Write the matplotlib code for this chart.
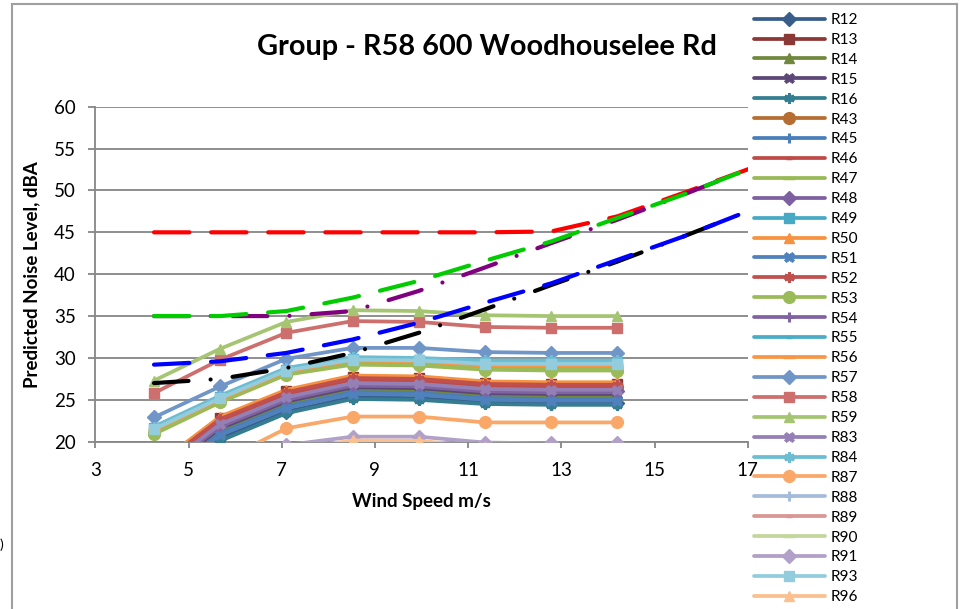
import matplotlib
matplotlib.use("Agg")
import matplotlib.pyplot as plt
from matplotlib.lines import Line2D

FONT = ["Lato", "DejaVu Sans"]
plt.rcParams['font.family'] = FONT

# ---------------- data ----------------
wind = [4.26, 5.68, 7.1, 8.52, 9.94, 11.36, 12.78, 14.2]
wind_limit = [4.26, 5.68, 7.1, 8.52, 9.94, 11.36, 12.78, 14.2, 15.62, 17.04]

labels = ["R12", "R13", "R14", "R15", "R16", "R43", "R45", "R46", "R47", "R48",
          "R49", "R50", "R51", "R52", "R53", "R54", "R55", "R56", "R57", "R58",
          "R59", "R83", "R84", "R87", "R88", "R89", "R90", "R91", "R93", "R96"]

R12 = [14.5, 20.4, 23.6, 25.3, 25.2, 24.7, 24.6, 24.6]
R13 = [16.8, 22.8, 26.0, 27.7, 27.6, 27.0, 26.9, 26.9]
R14 = [15.3, 21.3, 24.5, 26.2, 26.1, 25.5, 25.4, 25.4]
R15 = [15.6, 21.6, 24.8, 26.5, 26.4, 25.8, 25.7, 25.7]
R16 = [14.2, 20.1, 23.4, 25.1, 25.0, 24.5, 24.4, 24.4]
R43 = [16.4, 22.4, 25.6, 27.3, 27.2, 26.6, 26.5, 26.5]
R45 = [15.0, 21.0, 24.2, 25.9, 25.8, 25.2, 25.1, 25.1]
R46 = [16.5, 22.5, 25.7, 27.4, 27.3, 26.7, 26.6, 26.6]
R47 = [21.1, 24.9, 28.2, 29.4, 29.3, 28.9, 28.8, 28.8]
R48 = [16.0, 22.0, 25.2, 26.9, 26.8, 26.2, 26.1, 26.1]
R49 = [21.6, 25.3, 28.6, 29.9, 29.8, 29.4, 29.4, 29.4]
R50 = [17.0, 23.0, 26.2, 27.9, 27.8, 27.2, 27.1, 27.1]
R51 = [14.8, 20.8, 24.0, 25.7, 25.6, 25.0, 24.9, 24.9]
R52 = [16.7, 22.7, 25.9, 27.6, 27.5, 26.9, 26.8, 26.8]
R53 = [20.9, 24.7, 28.0, 29.2, 29.1, 28.6, 28.5, 28.5]
R54 = [15.8, 21.8, 25.0, 26.7, 26.6, 26.0, 25.9, 25.9]
R55 = [21.7, 25.4, 28.7, 30.0, 29.9, 29.6, 29.6, 29.6]
R56 = [21.4, 25.1, 28.4, 29.7, 29.6, 29.1, 29.1, 29.1]
R57 = [22.9, 26.6, 29.9, 31.2, 31.2, 30.7, 30.6, 30.6]
R58 = [25.8, 29.8, 33.0, 34.4, 34.3, 33.7, 33.6, 33.6]
R59 = [27.3, 31.1, 34.3, 35.7, 35.6, 35.1, 35.0, 35.0]
R83 = [16.1, 22.1, 25.3, 27.0, 26.9, 26.3, 26.2, 26.2]
R84 = [21.8, 25.5, 28.8, 30.1, 30.0, 29.7, 29.7, 29.7]
R87 = [13.5, 17.6, 21.6, 23.0, 23.0, 22.3, 22.3, 22.3]
R88 = [10.5, 14.5, 17.8, 19.0, 18.9, 18.3, 18.2, 18.2]
R89 = [10.0, 14.0, 17.3, 18.5, 18.4, 17.8, 17.7, 17.7]
R90 = [9.5, 13.5, 16.8, 18.0, 17.9, 17.3, 17.2, 17.2]
R91 = [12.0, 16.0, 19.6, 20.6, 20.6, 19.9, 19.8, 19.8]
R93 = [21.5, 25.2, 28.5, 29.8, 29.7, 29.3, 29.3, 29.3]
R96 = [11.5, 15.4, 19.0, 20.15, 20.1, 19.4, 19.3, 19.3]

series = [R12, R13, R14, R15, R16, R43, R45, R46, R47, R48, R49, R50, R51, R52,
          R53, R54, R55, R56, R57, R58, R59, R83, R84, R87, R88, R89, R90, R91,
          R93, R96]

limit_red = [45, 45, 45, 45, 45, 45, 45.1, 46.9, 49.7, 52.6]
limit_green = [35, 35, 35.6, 37.2, 39.2, 41.6, 43.9, 46.7, 49.5, 52.6]
limit_purple = [35, 35, 35, 35.6, 38.0, 40.8, 43.7, 46.5, 49.5, 52.6]
limit_blue = [29.2, 29.6, 30.6, 32.2, 34.2, 36.6, 38.9, 41.7, 44.5, 47.6]
limit_black = [27.0, 27.5, 28.8, 30.6, 33.0, 35.8, 38.7, 41.5, 44.5, 47.6]

# ---------------- styles ----------------
colors = ['#385D8A', '#8C3836', '#71893F', '#5C4776', '#357D91', '#B66D31',
          '#4A7EBB', '#BE4B48', '#98B954', '#7D60A0', '#46AAC5', '#F69240',
          '#4F81BD', '#C0504D', '#9BBB59', '#8064A2', '#4BACC6', '#F79646',
          '#7096C8', '#CC6F6D', '#A6C572', '#9580B5', '#6CBCD2', '#F9A86A',
          '#A5BBDB', '#D99694', '#C3D69B', '#B1A0C7', '#93CDDD', '#FAC090']
marker_cycle = [('D', 7, 1), ('s', 7.5, 1), ('^', 7.5, 1), ('X', 7.5, 0.5),
                ((6, 2, 0), 7.5, 2.2), ('o', 8.5, 1), ('+', 7, 2.2), ('_', 5, 2.5),
                ('_', 8, 2.5)]

W, H = 963, 609
fig = plt.figure(figsize=(W / 100, H / 100), dpi=100)
ax = fig.add_axes([95.3 / W, 1 - 441.7 / H, (747.7 - 95.3) / W, (441.7 - 106.7) / H])

handles = []
for i, (lab, vals) in enumerate(zip(labels, series)):
    m, ms, mew = marker_cycle[i % len(marker_cycle)]
    ln, = ax.plot(wind, vals, color=colors[i], lw=2.7, marker=m, markersize=ms,
                  markeredgewidth=mew, markeredgecolor=colors[i],
                  markerfacecolor=colors[i], label=lab, solid_capstyle='round',
                  zorder=3 + i * 0.01)
    handles.append(ln)

lw_lim = 3.0
def limit_line(vals, color, dashes, z):
    ln, = ax.plot(wind_limit, vals, color=color, lw=lw_lim,
                  dash_capstyle='round', zorder=z)
    ln.set_dashes(dashes)

limit_line(limit_red, '#FF0000', (8.5, 5.2), 5)
limit_line(limit_green, '#00CC00', (8.5, 5.2), 5.1)
limit_line(limit_purple, '#800080', (8.3, 5.3, 0.01, 5.3), 5.05)
limit_line(limit_blue, '#0000FF', (8.5, 5.2), 5.2)
limit_line(limit_black, '#000000', (8.3, 5.3, 0.01, 5.3), 5.15)

ax.set_xlim(3, 17)
ax.set_ylim(20, 60)
ax.set_xticks([3, 5, 7, 9, 11, 13, 15, 17])
ax.set_yticks([20, 25, 30, 35, 40, 45, 50, 55, 60])
grid_c = '#868686'
ax.grid(axis='y', color=grid_c, lw=1.3, zorder=0)
ax.set_axisbelow(True)
for s in ['top', 'right']:
    ax.spines[s].set_visible(False)
for s in ['left', 'bottom']:
    ax.spines[s].set_color(grid_c)
    ax.spines[s].set_linewidth(1.3)
ax.tick_params(axis='y', length=5, width=1.3, color=grid_c, pad=9, labelsize=13.5)
ax.tick_params(axis='x', length=4.5, width=1.3, color=grid_c, pad=10, labelsize=13.5)

ax.set_xlabel("Wind Speed m/s", fontsize=13.5, fontweight='bold', labelpad=10)
ax.set_ylabel("Predicted Noise Level, dBA", fontsize=13.5, fontweight='bold', labelpad=10)

fig.text(487 / W, 1 - 47 / H, "Group - R58 600 Woodhouselee Rd", fontsize=20.8,
         fontweight='bold', ha='center', va='center')

fig.legend(handles=handles, loc='upper left', bbox_to_anchor=(754 / W, 1 - 13 / H),
           frameon=False, fontsize=11.1, handlelength=4.6, handletextpad=0.35,
           labelspacing=0.383, borderpad=0, borderaxespad=0, numpoints=1)

# outer chart frame
fig.add_artist(Line2D([12 / W, 957 / W], [1 - 4 / H, 1 - 4 / H], color='#A0A0A0', lw=1.5))
fig.add_artist(Line2D([12 / W, 12 / W], [0, 1 - 4 / H], color='#A0A0A0', lw=1.5))
fig.add_artist(Line2D([957 / W, 957 / W], [0, 1 - 4 / H], color='#A0A0A0', lw=1.5))
fig.text(0 / W, 1 - 545 / H, ")", fontsize=10, ha='left', va='center')

fig.savefig("out.png", dpi=100)
